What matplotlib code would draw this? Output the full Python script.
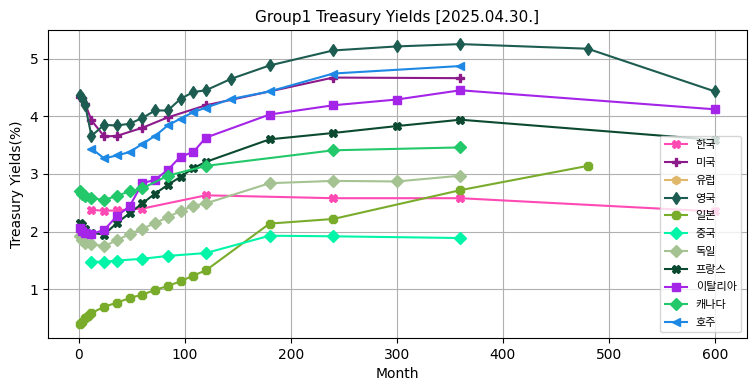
import matplotlib
matplotlib.use("Agg")
import matplotlib.pyplot as plt

plt.rcParams['font.family'] = ['DejaVu Sans', 'Noto Sans CJK KR']

kr_months = [12, 24, 36, 60, 120, 240, 360, 600]
kr_vals = [2.38, 2.36, 2.37, 2.40, 2.63, 2.58, 2.58, 2.35]

us_months = [1, 3, 6, 12, 24, 36, 60, 84, 120, 240, 360]
us_vals = [4.33, 4.31, 4.22, 3.93, 3.65, 3.66, 3.80, 3.98, 4.19, 4.67, 4.66]

eu_months = []
eu_vals = []

uk_months = [1, 3, 6, 12, 24, 36, 48, 60, 72, 84, 96, 108, 120, 144, 180, 240, 300, 360, 480, 600]
uk_vals = [4.37, 4.31, 4.20, 3.66, 3.85, 3.84, 3.87, 3.97, 4.10, 4.10, 4.30, 4.42, 4.45, 4.65, 4.88, 5.14, 5.21, 5.25, 5.17, 4.43]

jp_months = [1, 3, 6, 9, 12, 24, 36, 48, 60, 72, 84, 96, 108, 120, 180, 240, 360, 480]
jp_vals = [0.40, 0.44, 0.50, 0.54, 0.59, 0.70, 0.77, 0.85, 0.91, 0.99, 1.06, 1.14, 1.24, 1.33, 2.14, 2.22, 2.72, 3.14]

cn_months = [12, 24, 36, 60, 84, 120, 180, 240, 360]
cn_vals = [1.48, 1.48, 1.50, 1.53, 1.58, 1.63, 1.93, 1.92, 1.89]

de_months = [1, 3, 6, 12, 24, 36, 48, 60, 72, 84, 96, 108, 120, 180, 240, 300, 360]
de_vals = [1.92, 1.85, 1.81, 1.78, 1.75, 1.85, 1.96, 2.05, 2.15, 2.25, 2.36, 2.45, 2.49, 2.84, 2.88, 2.87, 2.97]

fr_months = [1, 3, 6, 12, 24, 36, 48, 60, 72, 84, 96, 108, 120, 180, 240, 300, 360, 600]
fr_vals = [2.15, 2.12, 2.05, 1.98, 1.95, 2.15, 2.32, 2.49, 2.66, 2.81, 2.95, 3.10, 3.21, 3.60, 3.71, 3.83, 3.94, 3.59]

it_months = [1, 3, 6, 12, 24, 36, 48, 60, 72, 84, 96, 108, 120, 180, 240, 300, 360, 600]
it_vals = [2.06, 2.01, 1.98, 1.96, 2.03, 2.27, 2.44, 2.84, 2.90, 3.07, 3.30, 3.38, 3.63, 4.03, 4.19, 4.29, 4.45, 4.12]

ca_months = [1, 3, 6, 12, 24, 36, 48, 60, 84, 120, 240, 360]
ca_vals = [2.70, 2.66, 2.62, 2.58, 2.55, 2.62, 2.70, 2.75, 2.97, 3.14, 3.41, 3.46]

au_months = [12, 24, 36, 48, 60, 72, 84, 96, 108, 120, 144, 180, 240, 360]
au_vals = [3.44, 3.27, 3.32, 3.38, 3.52, 3.66, 3.84, 3.96, 4.07, 4.15, 4.30, 4.43, 4.74, 4.87]

series = [
    ("한국", kr_months, kr_vals, "#ff4ab4", "X"),
    ("미국", us_months, us_vals, "#8c1a8a", "P"),
    ("유럽", eu_months, eu_vals, "#e0b86c", "h"),
    ("영국", uk_months, uk_vals, "#1d5c50", "d"),
    ("일본", jp_months, jp_vals, "#7aac2c", "8"),
    ("중국", cn_months, cn_vals, "#00f5a8", "D"),
    ("독일", de_months, de_vals, "#a5c392", "D"),
    ("프랑스", fr_months, fr_vals, "#0b4a30", "X"),
    ("이탈리아", it_months, it_vals, "#a424e8", "s"),
    ("캐나다", ca_months, ca_vals, "#22c86a", "D"),
    ("호주", au_months, au_vals, "#1e88e5", "<"),
]

fig = plt.figure(figsize=(7.55, 3.91), dpi=100)
ax = fig.add_axes([0.0636, 0.1355, 0.9254, 0.7875])
for name, m, v, c, mk in series:
    ax.plot(m, v, color=c, marker=mk, label=name, linewidth=1.5, markersize=6)

ax.grid(True)
ax.set_title("Group1 Treasury Yields [2025.04.30.]", fontsize=11)
ax.set_xlabel("Month")
ax.set_ylabel("Treasury Yields(%)")
leg = ax.legend(loc="lower right", labelspacing=0.7,
                prop={'family': ['Noto Sans CJK KR', 'DejaVu Sans'], 'size': 8})
fig.savefig("out.png", dpi=100)
